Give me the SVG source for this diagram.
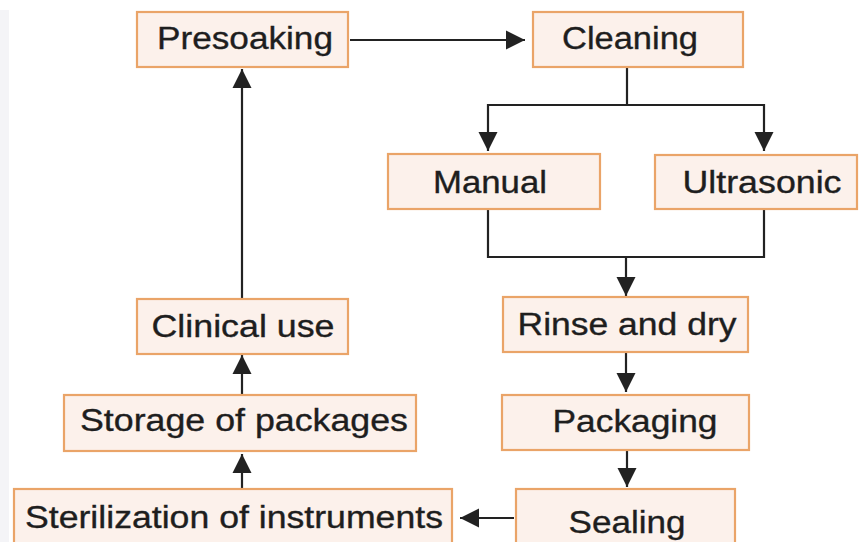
<svg xmlns="http://www.w3.org/2000/svg" width="859" height="542" viewBox="0 0 859 542">
<style>
.box{fill:#fcf1eb;stroke:#eaa468;stroke-width:2.2}
.lbl{font-family:"Liberation Sans",Arial,sans-serif;font-size:31px;fill:#1e1e1e;stroke:#1e1e1e;stroke-width:0.35;text-anchor:middle}
.con{fill:none;stroke:#222;stroke-width:2.2}
</style>
<defs>
<marker id="ah" markerUnits="userSpaceOnUse" markerWidth="22" markerHeight="22" viewBox="0 0 22 22" refX="19" refY="11" orient="auto">
<path d="M0,1.5 L19,11 L0,20.5 Z" fill="#222"/>
</marker>
</defs>
<rect width="859" height="542" fill="#ffffff"/>
<rect x="0" y="10" width="9" height="532" fill="#f4f4f7"/>
<g id="connectors">
<path class="con" d="M350,40 H525" marker-end="url(#ah)"/>
<path class="con" d="M627,67 V105 H488 V151" marker-end="url(#ah)"/>
<path class="con" d="M627,105 H764 V151" marker-end="url(#ah)"/>
<path class="con" d="M488,210 V257 H764 V210"/>
<path class="con" d="M626,257 V296" marker-end="url(#ah)"/>
<path class="con" d="M626,352 V392" marker-end="url(#ah)"/>
<path class="con" d="M627,450 V487" marker-end="url(#ah)"/>
<path class="con" d="M514,518 H460" marker-end="url(#ah)"/>
<path class="con" d="M242,488 V454" marker-end="url(#ah)"/>
<path class="con" d="M242,395 V355" marker-end="url(#ah)"/>
<path class="con" d="M242,299 V69" marker-end="url(#ah)"/>
</g>
<g id="presoaking"><rect class="box" x="137" y="12" width="211" height="55"/><text class="lbl" x="245" y="49" textLength="176" lengthAdjust="spacingAndGlyphs">Presoaking</text></g>
<g id="cleaning"><rect class="box" x="533" y="12" width="210" height="55"/><text class="lbl" x="630" y="49" textLength="136" lengthAdjust="spacingAndGlyphs">Cleaning</text></g>
<g id="manual"><rect class="box" x="388" y="154" width="212" height="55"/><text class="lbl" x="490" y="193" textLength="114" lengthAdjust="spacingAndGlyphs">Manual</text></g>
<g id="ultrasonic"><rect class="box" x="655" y="155" width="202" height="54"/><text class="lbl" x="762" y="193" textLength="159" lengthAdjust="spacingAndGlyphs">Ultrasonic</text></g>
<g id="rinse"><rect class="box" x="503" y="297" width="245" height="55"/><text class="lbl" x="627" y="335" textLength="219" lengthAdjust="spacingAndGlyphs">Rinse and dry</text></g>
<g id="packaging"><rect class="box" x="502" y="395" width="247" height="55"/><text class="lbl" x="635" y="432" textLength="165" lengthAdjust="spacingAndGlyphs">Packaging</text></g>
<g id="sealing"><rect class="box" x="516" y="489" width="219" height="62"/><text class="lbl" x="627" y="533" textLength="117" lengthAdjust="spacingAndGlyphs">Sealing</text></g>
<g id="clinical"><rect class="box" x="137" y="299" width="211" height="55"/><text class="lbl" x="243" y="337" textLength="183" lengthAdjust="spacingAndGlyphs">Clinical use</text></g>
<g id="storage"><rect class="box" x="64" y="395" width="352" height="56"/><text class="lbl" x="244" y="431" textLength="328" lengthAdjust="spacingAndGlyphs">Storage of packages</text></g>
<g id="sterilization"><rect class="box" x="14" y="489" width="438" height="62"/><text class="lbl" x="234" y="528" textLength="418" lengthAdjust="spacingAndGlyphs">Sterilization of instruments</text></g>
</svg>
